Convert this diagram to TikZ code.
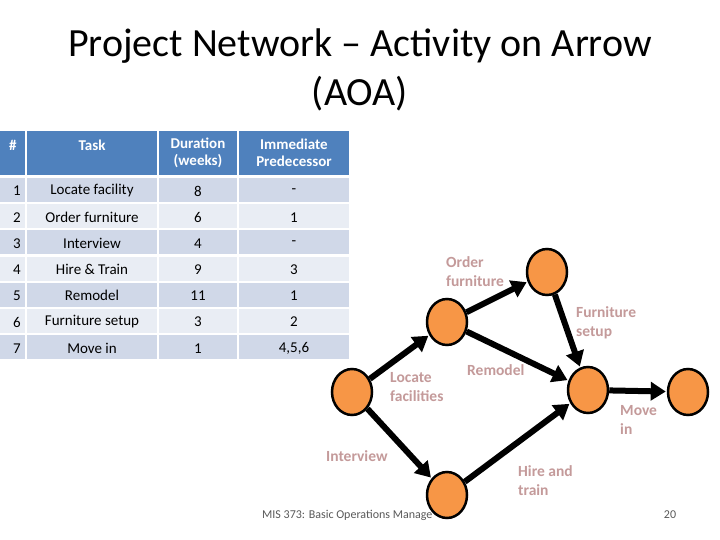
\documentclass[tikz,border=0pt]{standalone}
\usepackage{fontspec}
\setmainfont{Carlito}
\usetikzlibrary{arrows.meta,shapes.geometric}
\definecolor{hdr}{HTML}{4F81BD}
\definecolor{rowa}{HTML}{D0D8E8}
\definecolor{rowb}{HTML}{E9EDF4}
\definecolor{lbl}{HTML}{C49A9A}
\definecolor{nodeor}{HTML}{F79646}
\begin{document}
\begin{tikzpicture}[x=1pt,y=-1pt,
  ev/.style={ellipse,draw=black,line width=2.5pt,fill=nodeor,minimum width=40pt,minimum height=46pt,inner sep=0pt},
  act/.style={line width=6pt,-{Triangle[length=15pt,width=18pt]},shorten >=1pt},
  lab/.style={text=lbl,font=\fontsize{15.5}{19}\selectfont\bfseries,align=left,anchor=north west,inner sep=0pt},
  cell/.style={font=\fontsize{15}{17}\selectfont,inner sep=0pt}]
\useasboundingbox (0,0) rectangle (720,540);
\fill[white] (0,0) rectangle (720,540);
\node[font=\fontsize{40}{49}\selectfont,align=center] (title) at (360,70) {Project Network -- Activity on Arrow\\(AOA)};
% table
\foreach \xa/\xb in {0/25,27/157,159/237,239/349}{
  \fill[hdr] (\xa,131) rectangle (\xb,175);
}
\foreach \r [count=\i from 0] in {0,...,6}{
  \pgfmathsetmacro{\ya}{178+26.2*\i}
  \pgfmathsetmacro{\yb}{\ya+24}
  \ifodd\i \def\rc{rowb}\else\def\rc{rowa}\fi
  \foreach \xa/\xb in {0/25,27/157,159/237,239/349}{
    \fill[\rc] (\xa,\ya) rectangle (\xb,\yb);
  }
}
\node[cell,text=white,anchor=west] (h1) at (9,145) {\bfseries\#};
\node[cell,text=white] (h2) at (92,145) {\bfseries Task};
\node[cell,text=white,align=center] (h3) at (198,153) {\bfseries Duration\\\bfseries(weeks)};
\node[cell,text=white,align=center] (h4) at (294,153) {\bfseries Immediate\\\bfseries Predecessor};
\foreach \n/\t/\d/\p [count=\i from 0] in {1/Locate facility/8/-,2/Order furniture/6/1,3/Interview/4/-,4/Hire \& Train/9/3,5/Remodel/11/1,6/Furniture setup/3/2,7/Move in/1/{4,5,6}}{
  \pgfmathsetmacro{\yc}{191+26.2*\i}
  \node[cell,anchor=west] (n\i) at (13,\yc) {\n};
  \node[cell] (t\i) at (92,\yc) {\t};
  \node[cell] (d\i) at (198,\yc) {\d};
  \node[cell] (p\i) at (294,\yc) {\p};
}
% footer
\node[font=\fontsize{12}{14}\selectfont,text=black!65,anchor=west,inner sep=0pt] (foot) at (262,515) {MIS 373: Basic Operations Manage};
\node[font=\fontsize{12}{14}\selectfont,text=black!65,inner sep=0pt] (pg) at (670,515) {20};
% network
\node[ev] (A) at (352,392) {};
\node[ev] (B) at (447,322) {};
\node[ev] (C) at (547,272) {};
\node[ev] (D) at (588,390) {};
\node[ev] (E) at (688,392) {};
\node[ev] (F) at (447,495) {};
\draw[act] (A) -- (B);
\draw[act] (B) -- (C);
\draw[act] (C) -- (D);
\draw[act] (B) -- (D);
\draw[act] (A) -- (F);
\draw[act] (F) -- (D);
\draw[act] (D) -- (E);
\node[lab] (l1) at (446,256) {Order\\furniture};
\node[lab] (l2) at (576,306) {Furniture\\setup};
\node[lab] (l3) at (467,364) {Remodel};
\node[lab] (l4) at (390,372) {Locate\\facilities};
\node[lab] (l5) at (620,405) {Move\\in};
\node[lab] (l6) at (326,450) {Interview};
\node[lab] (l7) at (518,465) {Hire and\\train};
\end{tikzpicture}
\end{document}
